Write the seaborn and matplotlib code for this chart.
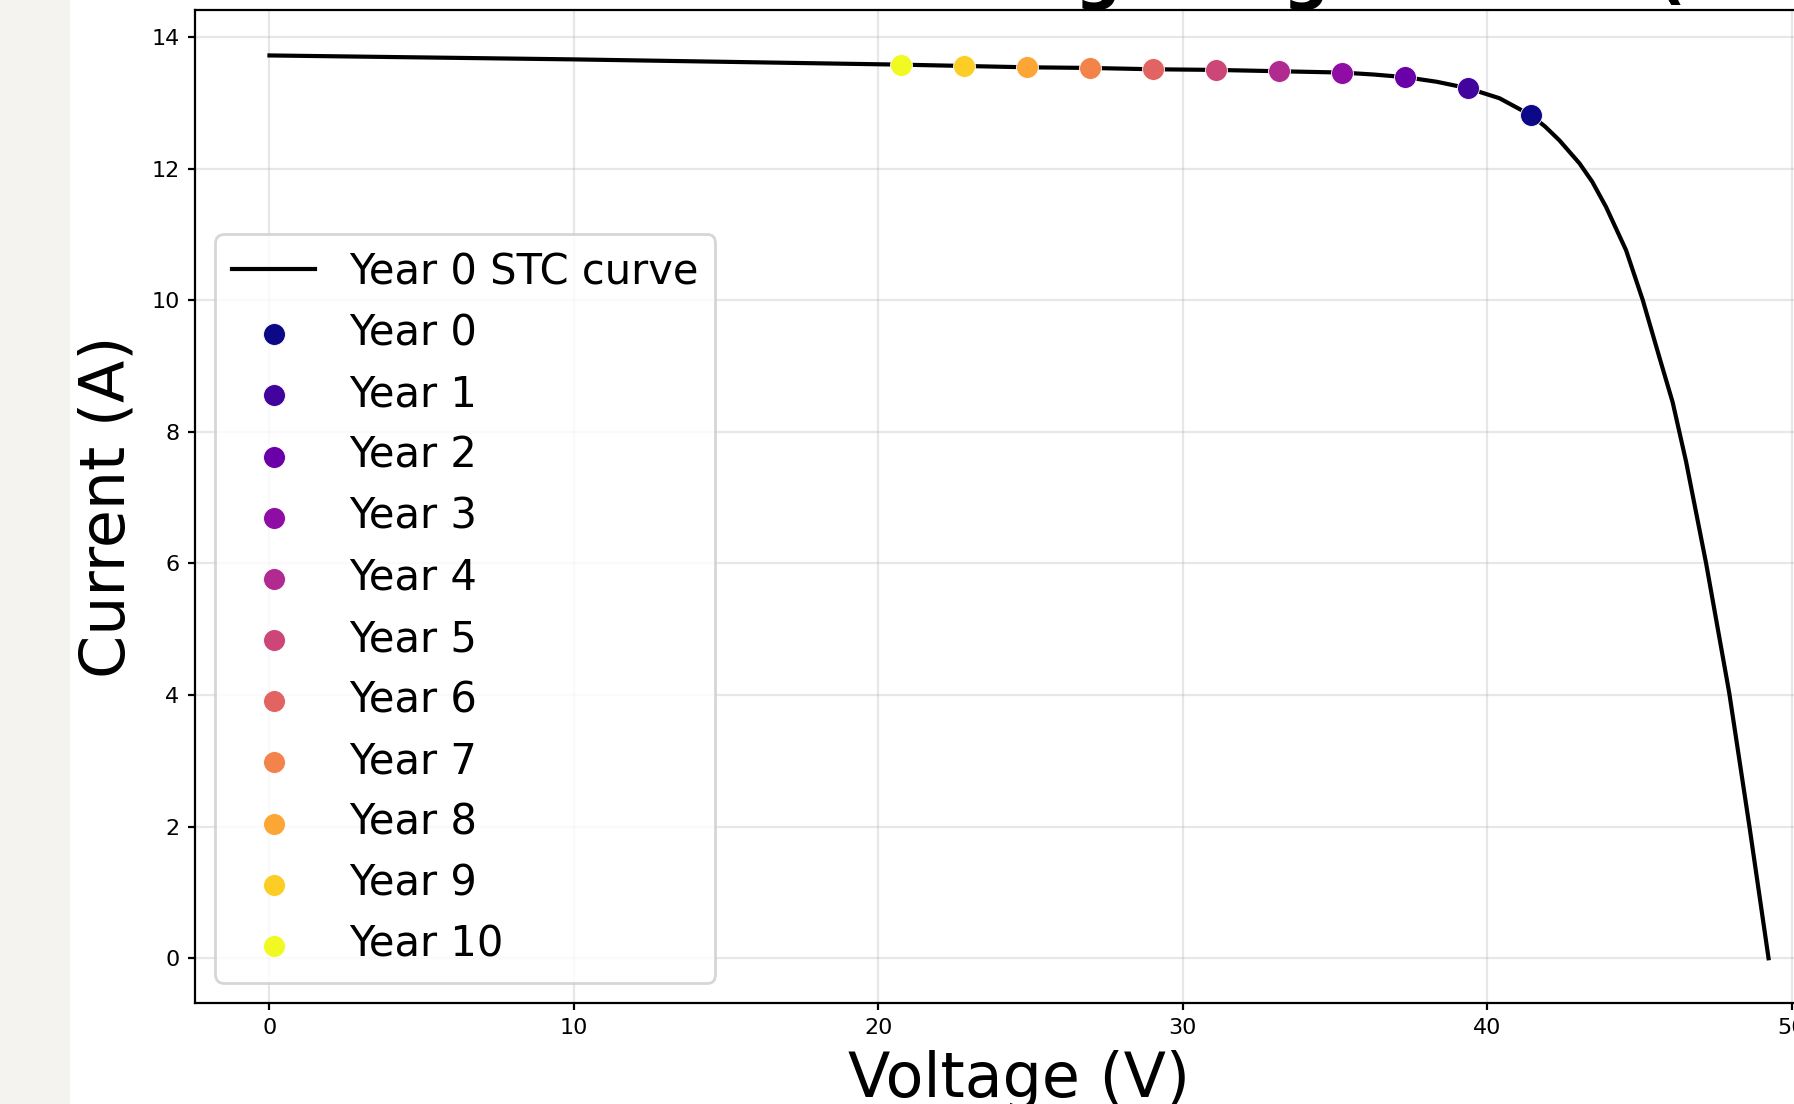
import matplotlib
matplotlib.use("Agg")
import matplotlib.pyplot as plt
from matplotlib.patches import Rectangle
import seaborn as sns
import numpy as np
import pandas as pd

# ---- data ----
curve_v = [0.0, 10.0, 20.77, 22.82, 24.87, 26.94, 29.01, 31.08, 33.15, 35.23, 36.27,
           37.31, 38.34, 39.38, 40.40, 41.44, 41.90, 42.37, 43.03, 43.45, 43.90,
           44.56, 45.11, 45.65, 46.09, 46.53, 47.19, 47.95, 48.61, 49.24]
curve_i = [13.72, 13.66, 13.58, 13.56, 13.54, 13.53, 13.51, 13.50, 13.48, 13.46, 13.43,
           13.39, 13.32, 13.22, 13.07, 12.81, 12.64, 12.43, 12.08, 11.80, 11.42,
           10.76, 10.00, 9.14, 8.45, 7.55, 6.00, 4.03, 2.01, 0.0]

years = [0, 1, 2, 3, 4, 5, 6, 7, 8, 9, 10]
mpp_v = [41.44, 39.38, 37.31, 35.23, 33.15, 31.08, 29.01, 26.94, 24.87, 22.82, 20.76]
mpp_i = [12.81, 13.22, 13.39, 13.46, 13.48, 13.50, 13.51, 13.53, 13.54, 13.56, 13.58]

title_text = "Maximum Power Point Shift Under Voltage Degradation (10 Years)"
curve_label = "Year 0 STC curve"
xlabel = "Voltage (V)"
ylabel = "Current (A)"

# ---- figure ----
DPI = 200
W, H = 1794, 1104
fig = plt.figure(figsize=(W / DPI, H / DPI), dpi=DPI, facecolor="white")
fig.add_artist(Rectangle((0, 0), 70 / W, 1, transform=fig.transFigure,
                         facecolor="#f4f3ef", edgecolor="none", zorder=0))

ax = fig.add_axes([194.5 / W, (H - 1003.4) / H, 1649 / W, 993.1 / H])
ax.set_facecolor("white")

curve_df = pd.DataFrame({"V": curve_v, "I": curve_i})
sns.lineplot(data=curve_df, x="V", y="I", sort=False, color="black", lw=1.5,
             label=curve_label, ax=ax, zorder=2)

cmap = plt.get_cmap("plasma")
colors = [cmap(k) for k in np.linspace(0, 1, len(years))]
for y, v, i, c in zip(years, mpp_v, mpp_i, colors):
    sns.scatterplot(x=[v], y=[i], color=c, s=62, label=f"Year {y}", ax=ax,
                    zorder=3, linewidth=0.3, edgecolor="white")

ax.set_xticks([0, 10, 20, 30, 40, 50])
ax.set_yticks([0, 2, 4, 6, 8, 10, 12, 14])
ax.tick_params(labelsize=8, length=2.4, width=0.8, pad=3)
ax.grid(True, color="#b0b0b0", alpha=0.3, lw=0.8)
ax.set_axisbelow(True)
for sp in ax.spines.values():
    sp.set_color("black")
    sp.set_linewidth(0.8)

ax.set_xlabel(xlabel, fontsize=22.3, labelpad=4)
ax.set_ylabel(ylabel, fontsize=22.3, labelpad=5)

ax.legend(loc="lower left", fontsize=15, framealpha=0.8, labelspacing=0.46)

# title placed so only the descenders remain visible at the top edge
renderer = fig.canvas.get_renderer()
prefix = title_text.split("Voltage")[0] + "Volta"
tp = fig.text(0, 0, prefix, fontsize=23, fontweight="bold")
wp = tp.get_window_extent(renderer).width
tp.remove()
tg = fig.text(0, 0, "g", fontsize=23, fontweight="bold")
wg = tg.get_window_extent(renderer).width
tg.remove()
x0 = (1098 - wp - wg / 2) / W
fig.text(x0, 1 + 3 / H, title_text, fontsize=23, fontweight="bold",
         ha="left", va="baseline")

fig.savefig("out.png", dpi=DPI)
